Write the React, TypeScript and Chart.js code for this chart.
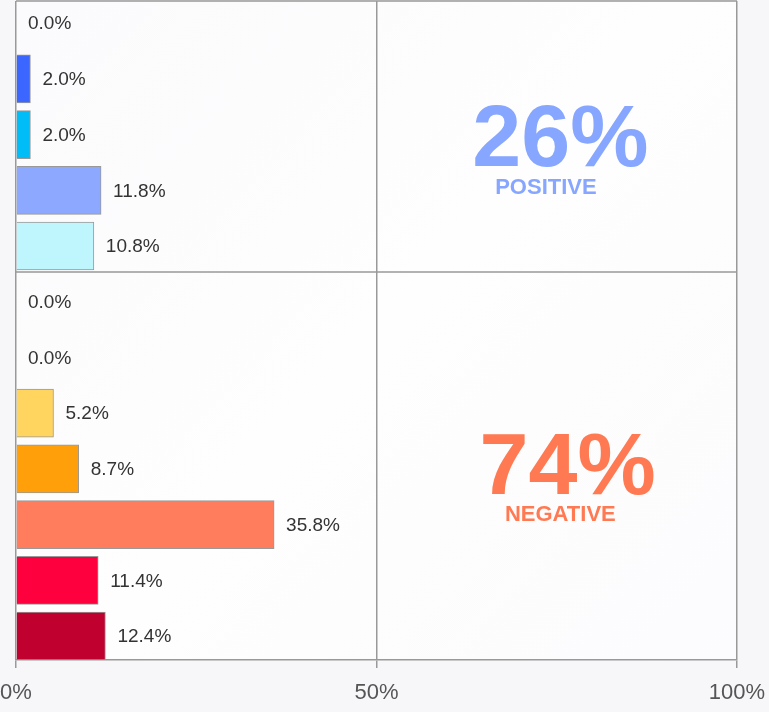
import React, { useEffect, useRef } from "react";
import { Chart, registerables } from "chart.js";

Chart.register(...registerables);

// ---- data ----
const categories = [
  "Positive 1", "Positive 2", "Positive 3", "Positive 4", "Positive 5",
  "Negative 1", "Negative 2", "Negative 3", "Negative 4", "Negative 5", "Negative 6", "Negative 7",
];
const values = [0.0, 2.0, 2.0, 11.8, 10.8, 0.0, 0.0, 5.2, 8.7, 35.8, 11.4, 12.4];
const barColors = [
  "#3b66ff", "#3b66ff", "#00bdf7", "#8ca9ff", "#bff6fd",
  "#ffd45f", "#ffd45f", "#ffd45f", "#ff9f0a", "#ff7d5c", "#ff003f", "#c0002f",
];
const xTicks = [0, 50, 100];
const summaryLabels = ["POSITIVE", "NEGATIVE"];
const summaryValues = [26, 74];
const summaryColors = ["#86a6ff", "#ff7a52"];
const groupSplit = 4.5; // boundary between positive (0-4) and negative (5-11)

const FONT = "'Liberation Sans', Arial, sans-serif";

export default function App() {
  const ref = useRef<HTMLCanvasElement | null>(null);

  useEffect(() => {
    if (!ref.current) return;

    const overlay = {
      id: "overlay",
      beforeDraw(chart: any) {
        const { ctx, chartArea, width, height } = chart;
        ctx.save();
        ctx.fillStyle = "#f7f6f9";
        ctx.fillRect(0, 0, width, height);
        const g = ctx.createLinearGradient(chartArea.left, chartArea.top, chartArea.right, chartArea.bottom);
        g.addColorStop(0, "#fbfafc");
        g.addColorStop(0.5, "#fefefe");
        g.addColorStop(1, "#fcfbfd");
        ctx.fillStyle = g;
        ctx.fillRect(chartArea.left, chartArea.top, chartArea.right - chartArea.left, chartArea.bottom - chartArea.top);
        ctx.restore();
      },
      beforeDatasetsDraw(chart: any) {
        const { ctx, chartArea } = chart;
        const y = chart.scales.y;
        ctx.save();
        ctx.strokeStyle = "#999";
        ctx.lineWidth = 1.5;
        ctx.beginPath();
        ctx.moveTo(chartArea.left, chartArea.top);
        ctx.lineTo(chartArea.right, chartArea.top);
        ctx.stroke();
        const sy = y.getPixelForValue(groupSplit) - 2;
        ctx.beginPath();
        ctx.moveTo(chartArea.left, sy);
        ctx.lineTo(chartArea.right, sy);
        ctx.stroke();
        ctx.restore();
      },
      afterDatasetsDraw(chart: any) {
        const { ctx } = chart;
        const x = chart.scales.x;
        const y = chart.scales.y;
        const meta = chart.getDatasetMeta(0);
        ctx.save();
        ctx.font = `19px ${FONT}`;
        ctx.fillStyle = "#333";
        ctx.textAlign = "left";
        ctx.textBaseline = "middle";
        meta.data.forEach((bar: any, i: number) => {
          ctx.fillText(values[i].toFixed(1) + "%", bar.x + 12, bar.y + 1);
        });
        const bigPos = [
          { cx: x.getPixelForValue(75.5), by: y.getPixelForValue(2.56), sx: x.getPixelForValue(73.5), sy: y.getPixelForValue(3.06) },
          { cx: x.getPixelForValue(76.5), by: y.getPixelForValue(8.45), sx: x.getPixelForValue(75.5), sy: y.getPixelForValue(8.93) },
        ];
        ctx.textAlign = "center";
        ctx.textBaseline = "alphabetic";
        summaryValues.forEach((v, i) => {
          ctx.fillStyle = summaryColors[i];
          ctx.font = `bold 88px ${FONT}`;
          ctx.fillText(v + "%", bigPos[i].cx, bigPos[i].by);
          ctx.font = `bold 22px ${FONT}`;
          ctx.fillText(summaryLabels[i], bigPos[i].sx, bigPos[i].sy);
        });
        ctx.restore();
      },
    };

    const chart = new Chart(ref.current, {
      type: "bar",
      data: {
        labels: categories,
        datasets: [
          {
            data: values.map((v, i) => ({ x: v, y: i })),
            backgroundColor: barColors,
            borderColor: "#999",
            borderWidth: 1,
            barThickness: 48,
          },
        ],
      },
      options: {
        indexAxis: "y",
        animation: false,
        responsive: true,
        maintainAspectRatio: false,
        layout: { padding: { left: 16, right: 32, top: 1, bottom: 0 } },
        plugins: { legend: { display: false }, tooltip: { enabled: false } },
        scales: {
          x: {
            type: "linear",
            min: 0,
            max: 100,
            afterBuildTicks: (s: any) => {
              s.ticks = xTicks.map((v) => ({ value: v }));
            },
            afterFit: (s: any) => {
              s.height = 52;
              s.paddingLeft = 0;
              s.paddingRight = 0;
            },
            grid: { color: "#999", lineWidth: 1.5, tickLength: 8, drawOnChartArea: true },
            border: { display: true, color: "#999", width: 1.5 },
            ticks: {
              padding: 12,
              color: "#555",
              font: { family: FONT, size: 22 },
              callback: (v: any) => v + "%",
              maxRotation: 0,
            },
          },
          y: {
            type: "linear",
            reverse: true,
            offset: false,
            min: -0.398,
            max: 11.43,
            display: false,
          },
        },
      },
      plugins: [overlay],
    } as any);

    return () => chart.destroy();
  }, []);

  return (
    <div style={{ position: "absolute", left: 0, top: 0, width: 769, height: 712, background: "#fff" }}>
      <canvas ref={ref} />
    </div>
  );
}
